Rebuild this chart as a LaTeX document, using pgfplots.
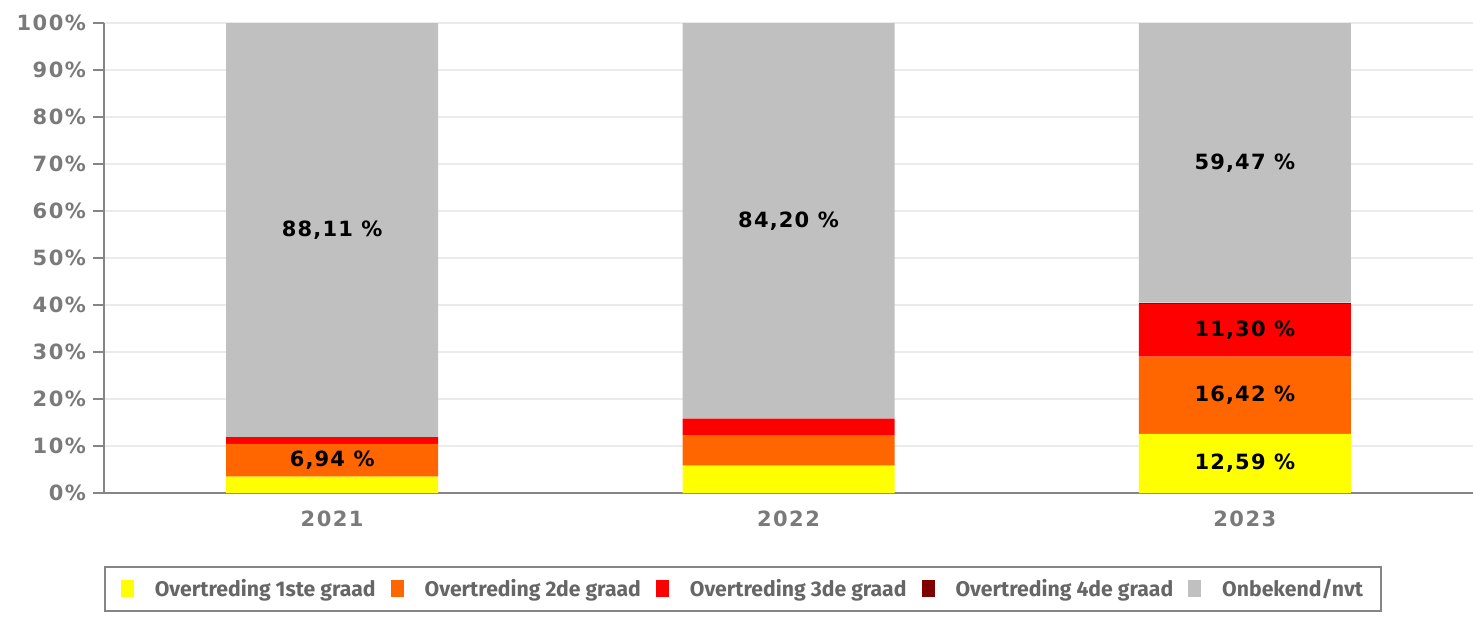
\documentclass[border=0pt]{standalone}
\usepackage{pgfplots}
\pgfplotsset{compat=1.18}
\usepackage{pgfplotstable}
\usepackage{fontspec}
\setmainfont{DejaVu Sans}
\newfontfamily\tickfont[LetterSpace=7]{DejaVu Sans}
\newfontfamily\valfont[LetterSpace=5.5]{DejaVu Sans}
\newfontfamily\legfont{Fira Sans}

\definecolor{c1}{HTML}{FFFF00}
\definecolor{c2}{HTML}{FF6600}
\definecolor{c3}{HTML}{FF0000}
\definecolor{c4}{HTML}{800000}
\definecolor{c5}{HTML}{C0C0C0}
\definecolor{axgray}{HTML}{858585}
\definecolor{txtgray}{HTML}{7A7A7A}
\definecolor{leggray}{HTML}{666666}

% share per year (%), stacked bottom to top
\pgfplotstableread{
x  y1    y2    y3    y4   y5
0  3.50  6.94  1.45  0.00 88.11
1  5.80  6.40  3.60  0.00 84.20
2 12.59 16.42 11.30  0.22 59.47
}\shares

\begin{document}
\begin{tikzpicture}
\useasboundingbox (-52pt,-62pt) rectangle (684.5pt,246.5pt);
\begin{axis}[
    at={(0,0)}, anchor=south west,
    scale only axis,
    width=684.5pt, height=235pt,
    ybar stacked,
    bar width=106pt,
    xmin=-0.5, xmax=2.5,
    ymin=0, ymax=100,
    xtick={0,1,2},
    xticklabels={2021,2022,2023},
    extra x ticks={-0.5,0.5,1.5,2.5},
    extra x tick labels={},
    extra x tick style={grid=none, major tick style={draw=axgray, line width=0.8pt}},
    major x tick style={draw=none},
    ytick={0,10,...,100},
    yticklabel={\pgfmathprintnumber{\tick}\%},
    /pgf/number format/assume math mode=true,
    ymajorgrids,
    grid style={color=black!8, line width=0.6pt},
    axis x line*=bottom,
    axis y line*=left,
    axis line style={draw=axgray, line width=1pt, -},
    tick align=outside,
    major tick length=5.5pt,
    ytick style={draw=axgray, line width=0.8pt},
    ticklabel style={font=\tickfont\bfseries\fontsize{10.5}{12}\selectfont, text=txtgray},
    xticklabel style={font=\tickfont\bfseries\fontsize{10.5}{12}\selectfont},
    legend columns=5,
    legend cell align=left,
    legend image code/.code={\fill[#1] (0pt,-4.25pt) rectangle (6.5pt,4.25pt);},
    legend style={
        at={(0,0)}, anchor=north west, yshift=-36.5pt,
        draw=axgray, line width=0.8pt,
        inner xsep=8pt, inner ysep=5pt,
        font=\legfont\bfseries\fontsize{10.6}{12}\selectfont,
        text=leggray,
        nodes={inner sep=1pt},
        /tikz/every odd column/.append style={column sep=9.5pt},
        /tikz/every even column/.append style={column sep=6.5pt},
    },
]
\addplot[fill=c1, draw=none] table[x=x, y=y1] {\shares};
\addplot[fill=c2, draw=none] table[x=x, y=y2] {\shares};
\addplot[fill=c3, draw=none] table[x=x, y=y3] {\shares};
\addplot[fill=c4, draw=none] table[x=x, y=y4] {\shares};
\addplot[fill=c5, draw=none] table[x=x, y=y5] {\shares};
\legend{Overtreding 1ste graad, Overtreding 2de graad, Overtreding 3de graad, Overtreding 4de graad, Onbekend/nvt}
\end{axis}
% value labels, centred in their segments
\begin{axis}[
    at={(0,0)}, anchor=south west,
    scale only axis,
    width=684.5pt, height=235pt,
    xmin=-0.5, xmax=2.5,
    ymin=0, ymax=100,
    hide axis,
]
\addplot[draw=none, mark=none,
    nodes near coords,
    point meta=explicit symbolic,
    nodes near coords style={anchor=center, font=\valfont\bfseries\fontsize{10.5}{12}\selectfont, text=black},
] coordinates {
    (0,6.97) [6,94 \%]
    (0,55.95) [88,11 \%]
    (1,57.90) [84,20 \%]
    (2,6.30) [12,59 \%]
    (2,20.80) [16,42 \%]
    (2,34.66) [11,30 \%]
    (2,70.27) [59,47 \%]
};
\end{axis}
\end{tikzpicture}
\end{document}
